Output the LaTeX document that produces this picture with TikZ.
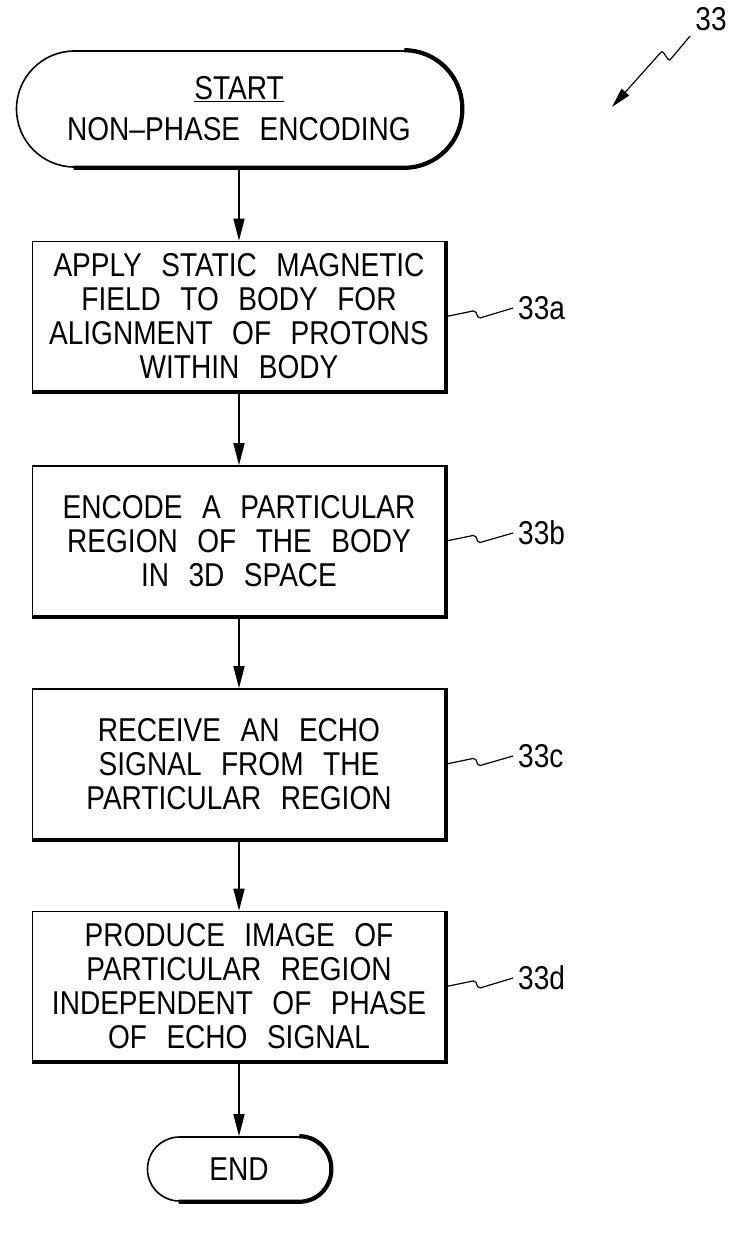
\documentclass[tikz,border=0pt]{standalone}
\usepackage{fontspec}
\setmainfont{Liberation Sans}[FakeStretch=0.85,WordSpace=2.5]
\usetikzlibrary{arrows.meta}

\begin{document}
\begin{tikzpicture}[x=1pt,y=-1pt]
  \useasboundingbox (0,0) rectangle (732,1235);
  \tikzstyle{txt} = [font=\fontsize{33}{34}\selectfont, align=center, inner sep=0pt]
  \tikzstyle{sbox} = [txt, draw=black, line width=1.6pt, minimum width=413pt, minimum height=150pt]
  \tikzstyle{term} = [txt, draw=black, line width=1.6pt]
  \tikzstyle{shade} = [line width=4.2pt]
  \tikzstyle{flow} = [line width=1.6pt, -{Triangle[length=22pt,width=11pt]}]
  \tikzstyle{lead} = [line width=1.2pt, rounded corners=2pt]

  % terminals and steps
  \node[term, minimum width=445pt, minimum height=116pt, rounded corners=58pt] (start) at (239,109)
    {\underline{START}\\[7pt] NON--PHASE ENCODING};
  \node[sbox] (s1) at (239,316.5) {APPLY STATIC MAGNETIC\\ FIELD TO BODY FOR\\ ALIGNMENT OF PROTONS\\ WITHIN BODY};
  \node[sbox] (s2) at (239,541) {ENCODE A PARTICULAR\\ REGION OF THE BODY\\ IN 3D SPACE};
  \node[sbox] (s3) at (239,764) {RECEIVE AN ECHO\\ SIGNAL FROM THE\\ PARTICULAR REGION};
  \node[sbox] (s4) at (239,986.5) {PRODUCE IMAGE OF\\ PARTICULAR REGION\\ INDEPENDENT OF PHASE\\ OF ECHO SIGNAL};
  \node[term, minimum width=183pt, minimum height=64pt, rounded corners=32pt] (stop) at (239,1169) {END};

  % heavy lower and right edges
  \draw[shade, rounded corners=58pt] ([xshift=-58pt]start.north east) -- (start.north east)
    -- (start.south east) -- ([xshift=58pt]start.south west);
  \draw[shade, rounded corners=32pt] ([xshift=-32pt]stop.north east) -- (stop.north east)
    -- (stop.south east) -- ([xshift=32pt]stop.south west);
  \foreach \n in {s1,s2,s3,s4}
    \draw[shade] (\n.north east) |- (\n.south west);

  % flow
  \draw[flow] (start) -- (s1);
  \draw[flow] (s1) -- (s2);
  \draw[flow] (s2) -- (s3);
  \draw[flow] (s3) -- (s4);
  \draw[flow] (s4) -- (stop);

  % reference numerals
  \node[txt, anchor=west] (l1) at (518,308) {33a};
  \node[txt, anchor=west] (l2) at (518,533) {33b};
  \node[txt, anchor=west] (l3) at (518,756) {33c};
  \node[txt, anchor=west] (l4) at (518,978) {33d};
  \draw[lead] (s1.east) -- ++(29,-6) -- ++(3,8) -- ([xshift=-5pt]l1.west);
  \draw[lead] (s2.east) -- ++(29,-6) -- ++(3,8) -- ([xshift=-5pt]l2.west);
  \draw[lead] (s3.east) -- ++(29,-6) -- ++(3,8) -- ([xshift=-5pt]l3.west);
  \draw[lead] (s4.east) -- ++(29,-6) -- ++(3,8) -- ([xshift=-5pt]l4.west);

  \node[txt] (r33) at (711,19) {33};
  \coordinate (tip) at (612,107);
  \draw[lead, -{Triangle[length=20pt,width=10pt]}] ([shift={(-5pt,-5pt)}]r33.south west)
    -- ++(-21,25) -- ++(-7,-10) -- (tip);
\end{tikzpicture}
\end{document}
